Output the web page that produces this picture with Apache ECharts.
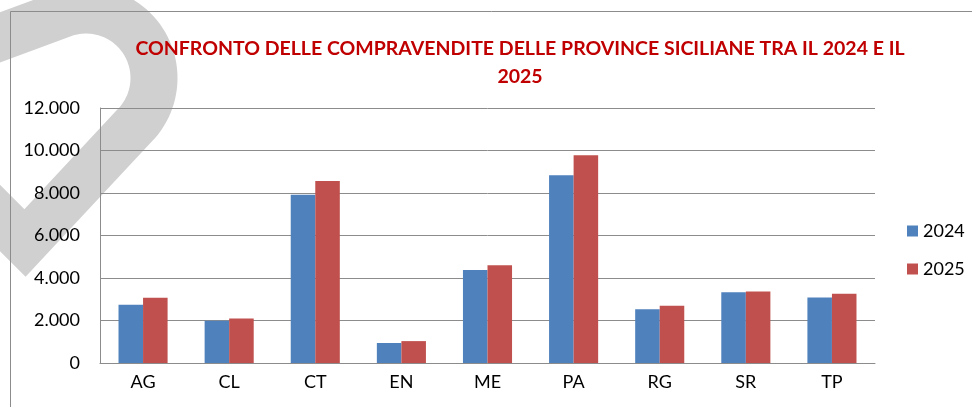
<!DOCTYPE html>
<html>
<head>
<meta charset="utf-8">
<script src="https://cdn.jsdelivr.net/npm/echarts@6/dist/echarts.min.js"></script>
<style>
  html, body { margin: 0; padding: 0; background: #fff; }
  #main { width: 972px; height: 407px; }
</style>
</head>
<body>
<div id="main"></div>
<script>
// province e compravendite
const province = ['AG', 'CL', 'CT', 'EN', 'ME', 'PA', 'RG', 'SR', 'TP'];
const anno2024 = [2740, 1990, 7920, 940, 4380, 8840, 2535, 3330, 3080];
const anno2025 = [3070, 2090, 8560, 1030, 4600, 9780, 2690, 3360, 3255];
const yTicks = [0, 2000, 4000, 6000, 8000, 10000, 12000];

const chartDom = document.getElementById('main');
const myChart = echarts.init(chartDom);

// formato italiano: 12.000
const fmt = v => String(v).replace(/\B(?=(\d{3})+(?!\d))/g, '.');

const font = 'Lato, "Open Sans", sans-serif';

// filigrana: un nastro grigio (arco + due tratti dritti)
const wmPts = [[-80, 67]];
const a0 = -110 * Math.PI / 180, a1 = 44 * Math.PI / 180;
for (let i = 0; i <= 50; i++) {
  const a = a0 + (a1 - a0) * i / 50;
  wmPts.push([86 + 68 * Math.cos(a), 78 + 68 * Math.sin(a)]);
}
wmPts.push([25, 243], [-80, 138]);

const option = {
  animation: false,
  backgroundColor: '#fff',
  title: {
    text: 'CONFRONTO DELLE COMPRAVENDITE DELLE PROVINCE SICILIANE TRA IL 2024 E IL\n2025',
    left: 515,
    textAlign: 'center',
    top: 30,
    textStyle: {
      color: '#C00000',
      fontWeight: 'bold',
      fontSize: 19.5,
      fontFamily: font,
      lineHeight: 28
    }
  },
  legend: {
    orient: 'vertical',
    left: 902,
    top: 217,
    itemWidth: 11,
    itemHeight: 11,
    itemGap: 20,
    icon: 'rect',
    textStyle: { fontSize: 18, lineHeight: 18, color: '#000', fontFamily: font }
  },
  grid: { left: 100, right: 97, top: 108, bottom: 44, containLabel: false },
  xAxis: {
    type: 'category',
    data: province,
    axisLine: { lineStyle: { color: '#8c8c8c', width: 1 } },
    axisTick: { show: false },
    axisLabel: { color: '#000', fontSize: 18, fontFamily: font, margin: 10 }
  },
  yAxis: {
    type: 'value',
    min: yTicks[0],
    max: yTicks[yTicks.length - 1],
    interval: 2000,
    axisLine: { show: true, lineStyle: { color: '#8c8c8c' } },
    axisTick: { show: false },
    splitLine: { lineStyle: { color: '#8c8c8c' } },
    axisLabel: { color: '#000', fontSize: 18, fontFamily: font, margin: 20, formatter: fmt }
  },
  series: [
    {
      name: '2024', type: 'bar', data: anno2024,
      barGap: '0%', barCategoryGap: '43%',
      itemStyle: { color: '#4F81BD' }
    },
    {
      name: '2025', type: 'bar', data: anno2025,
      itemStyle: { color: '#C0504D' }
    }
  ],
  graphic: [
    { type: 'polyline', z: -10, shape: { points: wmPts },
      style: { stroke: '#d0d0d0', lineWidth: 47, fill: 'none', lineJoin: 'miter', miterLimit: 10 } },
    // cornice
    { type: 'rect', z: -5, shape: { x: 10.5, y: 11.5, width: 1000, height: 500 },
      style: { fill: 'none', stroke: '#8c8c8c', lineWidth: 1 } }
  ]
};

option && myChart.setOption(option);
</script>
</body>
</html>
